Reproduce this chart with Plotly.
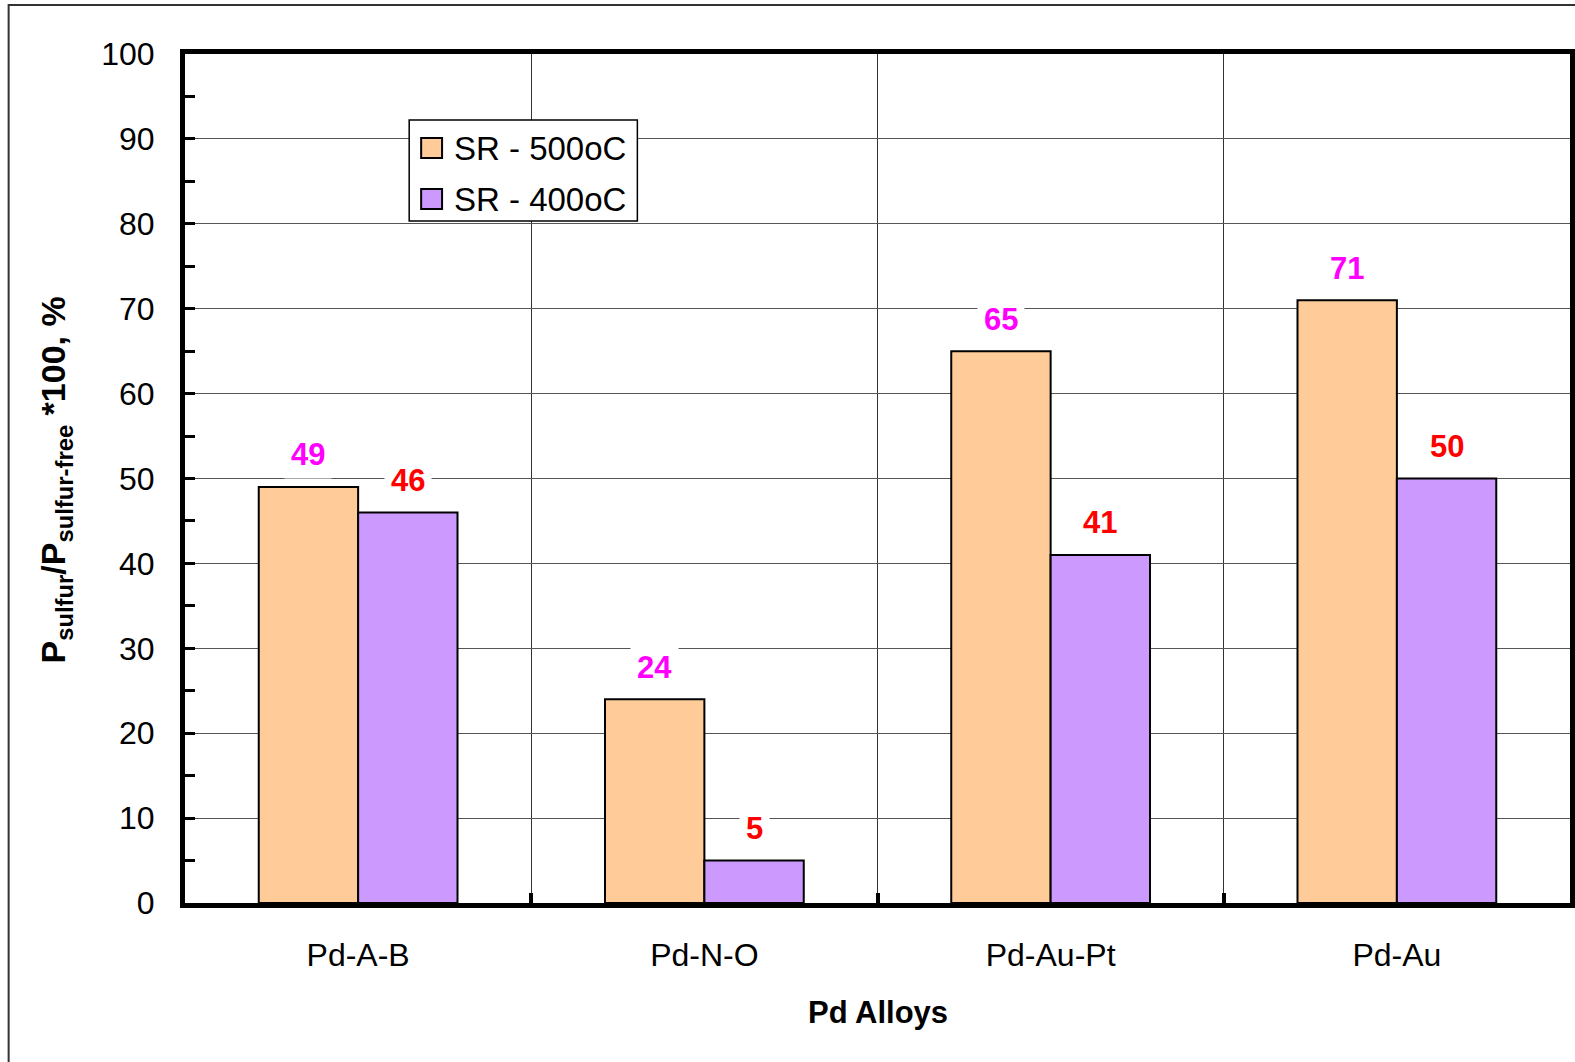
import plotly.graph_objects as go

# Data
alloys = ["Pd-A-B", "Pd-N-O", "Pd-Au-Pt", "Pd-Au"]
sr_500 = [49, 24, 65, 71]
sr_400 = [46, 5, 41, 50]
series_names = ["SR - 500oC", "SR - 400oC"]

# Styling
W, H = 1575, 1062
ML, MR, MT, MB = 185, 0, 54, 159
ORANGE = "#FFCC99"
PURPLE = "#CC99FF"
FONT = "Liberation Sans, Arial, sans-serif"
BARGAP = 0.426

plot_w = W - ML - MR
plot_h = H - MT - MB


def px_x(px):
    return (px - ML) / plot_w


def px_y(py):
    return (H - MB - py) / plot_h


fig = go.Figure()
for name, vals, color in [(series_names[0], sr_500, ORANGE), (series_names[1], sr_400, PURPLE)]:
    fig.add_trace(go.Bar(
        x=alloys, y=vals, name=name,
        marker=dict(color=color, line=dict(color="black", width=2)),
        showlegend=False,
    ))

# Value labels above each bar, on a white backing
cat_w = plot_w / len(alloys)
half_bar = cat_w * (1 - BARGAP) / 4
annotations = []
for vals, color, sign in [(sr_500, "#FF00FF", -1), (sr_400, "#FF0000", 1)]:
    for a, v in zip(alloys, vals):
        annotations.append(dict(
            x=a, y=v, xref="x", yref="y", text=f"<b>{v}</b>",
            showarrow=False, xshift=sign * half_bar, yshift=32,
            xanchor="center", yanchor="middle",
            font=dict(family=FONT, size=31, color=color),
            bgcolor="white", borderpad=6,
        ))

# Axis titles
annotations.append(dict(
    x=px_x(55), y=px_y(480), xref="paper", yref="paper", textangle=-90,
    text="<b>P<sub>sulfur</sub>/P<sub>sulfur-free</sub> *100, %</b>",
    showarrow=False, xanchor="center", yanchor="middle",
    font=dict(family=FONT, size=34, color="black"),
))
annotations.append(dict(
    x=0.5, y=px_y(1012), xref="paper", yref="paper",
    text="<b>Pd Alloys</b>", showarrow=False,
    xanchor="center", yanchor="middle",
    font=dict(family=FONT, size=31, color="black"),
))

# Legend entries
legend_rows = [(series_names[0], ORANGE, 148), (series_names[1], PURPLE, 199)]
shapes = [
    # outer frame
    dict(type="rect", xref="paper", yref="paper",
         x0=px_x(8), y0=px_y(1200), x1=px_x(1700), y1=px_y(5),
         line=dict(color="#333333", width=2), layer="below"),
    # legend box
    dict(type="rect", xref="paper", yref="paper",
         x0=px_x(410), y0=px_y(221), x1=px_x(639), y1=px_y(120),
         line=dict(color="black", width=1.5), fillcolor="white", layer="above"),
]
for name, color, cy in legend_rows:
    shapes.append(dict(type="rect", xref="paper", yref="paper",
                       x0=px_x(422), x1=px_x(443), y0=px_y(cy + 10), y1=px_y(cy - 10),
                       line=dict(color="black", width=2), fillcolor=color, layer="above"))
    annotations.append(dict(
        x=px_x(453), y=px_y(cy), xref="paper", yref="paper", text=name,
        showarrow=False, xanchor="left", yanchor="middle",
        font=dict(family=FONT, size=33, color="black"),
    ))

fig.update_layout(
    width=W, height=H,
    margin=dict(l=ML, r=MR, t=MT, b=MB, pad=0),
    paper_bgcolor="white", plot_bgcolor="white",
    barmode="group", bargap=BARGAP, bargroupgap=0,
    annotations=annotations, shapes=shapes,
    font=dict(family=FONT, size=32, color="black"),
    showlegend=False,
)
fig.update_xaxes(
    type="category", tickson="boundaries",
    ticks="inside", ticklen=10, tickwidth=4, tickcolor="black",
    showgrid=True, gridcolor="#333333", gridwidth=1,
    showline=True, linecolor="black", linewidth=5, mirror=True,
    tickfont=dict(family=FONT, size=32, color="black"),
    ticklabelstandoff=20,
)
fig.update_yaxes(
    range=[0, 100], dtick=10, tick0=0,
    ticks="inside", ticklen=10, tickwidth=3, tickcolor="black",
    minor=dict(dtick=5, ticks="inside", ticklen=10, tickwidth=3, tickcolor="black", showgrid=False),
    showgrid=True, gridcolor="#555555", gridwidth=1,
    showline=True, linecolor="black", linewidth=5, mirror=True,
    zeroline=False,
    tickfont=dict(family=FONT, size=32, color="black"),
    ticklabelstandoff=19,
)

fig.write_html("out.html")
